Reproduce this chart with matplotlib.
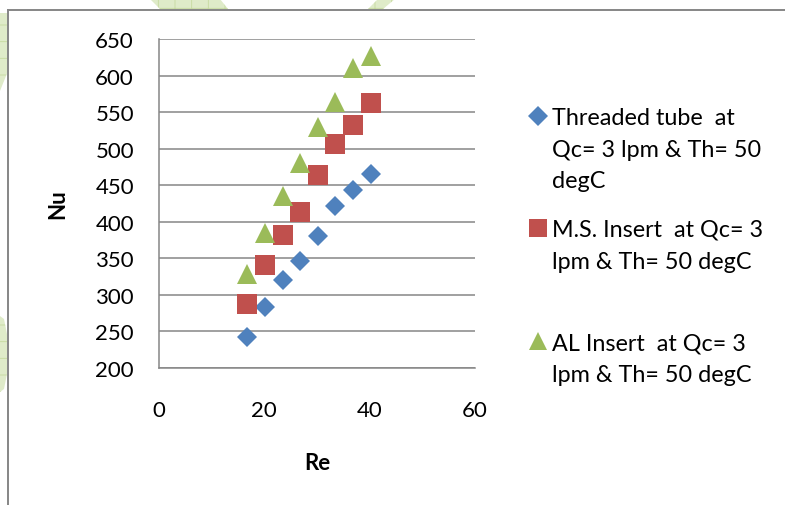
import matplotlib
matplotlib.use('Agg')
import matplotlib.pyplot as plt
from matplotlib.lines import Line2D
from matplotlib.patches import Polygon

plt.rcParams['font.family'] = ['Lato', 'DejaVu Sans']
plt.rcParams['hatch.linewidth'] = 0.6

# Reynolds number vs Nusselt number
re_vals = [16.8, 20.2, 23.5, 26.8, 30.1, 33.5, 36.8, 40.2]
nu_threaded = [243, 283, 321, 347, 380, 421, 444, 465]
nu_ms = [288, 341, 382, 414, 464, 507, 533, 563]
nu_al = [329, 385, 435, 480, 529, 564, 610, 627]

labels = ['Threaded tube  at\nQc= 3 lpm & Th= 50\ndegC',
          'M.S. Insert  at Qc= 3\nlpm & Th= 50 degC',
          'AL Insert  at Qc= 3\nlpm & Th= 50 degC']
colors = ['#4F81BD', '#C0504D', '#9BBB59']
markers = ['D', 's', '^']
sizes = [10, 14.5, 14.5]

xticks = [0, 20, 40, 60]
yticks = [200, 250, 300, 350, 400, 450, 500, 550, 600, 650]

W, H = 785, 506
fig = plt.figure(figsize=(W / 100, H / 100), dpi=100)


def fx(px):
    return px / W


def fy(py):
    return 1 - py / H


# faint page decoration behind the chart frame
for pts in [[(150, 0), (220, 0), (228, 10), (160, 10)],
            [(378, 0), (395, 0), (383, 10), (368, 10)],
            [(0, 14), (8, 14), (8, 72), (0, 92)],
            [(0, 317), (4, 320), (7, 335), (7, 375), (4, 390), (0, 393)]]:
    fig.patches.append(Polygon([(fx(a), fy(b)) for a, b in pts], closed=True,
                               transform=fig.transFigure, facecolor='#dfebc9',
                               edgecolor='#c6da9f', hatch='+', lw=0, zorder=0))

# chart frame
frame = '#868686'
fig.add_artist(Line2D([fx(8), fx(8)], [fy(11), 0], color=frame, lw=1.4,
                      transform=fig.transFigure))
fig.add_artist(Line2D([fx(8), 1], [fy(11), fy(11)], color=frame, lw=1.4,
                      transform=fig.transFigure))

ax = fig.add_axes([fx(159), fy(369), fx(475) - fx(159), fy(40) - fy(369)])
for y, c, m, s, lab in zip([nu_threaded, nu_ms, nu_al], colors, markers, sizes, labels):
    ax.plot(re_vals, y, linestyle='none', marker=m, ms=s, color=c,
            markeredgewidth=0, label=lab, clip_on=False, zorder=3)

ax.set_xlim(0, 60)
ax.set_ylim(200, 650)
ax.set_xticks(xticks)
ax.set_yticks(yticks)
ax.yaxis.grid(True, color=frame, lw=1.1)
ax.set_axisbelow(True)
for side in ['top', 'right']:
    ax.spines[side].set_visible(False)
for side in ['left', 'bottom']:
    ax.spines[side].set_color(frame)
    ax.spines[side].set_linewidth(1.1)
ax.tick_params(axis='x', length=0, pad=23, labelsize=16)
ax.tick_params(axis='y', length=0, pad=18, labelsize=16)

fig.text(fx(317), fy(464), 'Re', ha='center', va='center', fontsize=16,
         fontweight='bold')
fig.text(fx(58), fy(204), 'Nu', ha='center', va='center', fontsize=16,
         fontweight='bold', rotation=90)

# legend drawn as separate lines at fixed slots
first_baselines = [125, 237, 350]
line_step = 31.7
for base, c, m, lab in zip(first_baselines, colors, markers, labels):
    msz = 10 if m == 'D' else 13
    fig.add_artist(Line2D([fx(538)], [fy(base - 8.5)], marker=m, ms=msz,
                          color=c, markeredgewidth=0, linestyle='none',
                          transform=fig.transFigure))
    for i, line in enumerate(lab.split('\n')):
        fig.text(fx(552), fy(base + i * line_step), line, ha='left',
                 va='baseline', fontsize=16.8)

fig.savefig('out.png', dpi=100)
